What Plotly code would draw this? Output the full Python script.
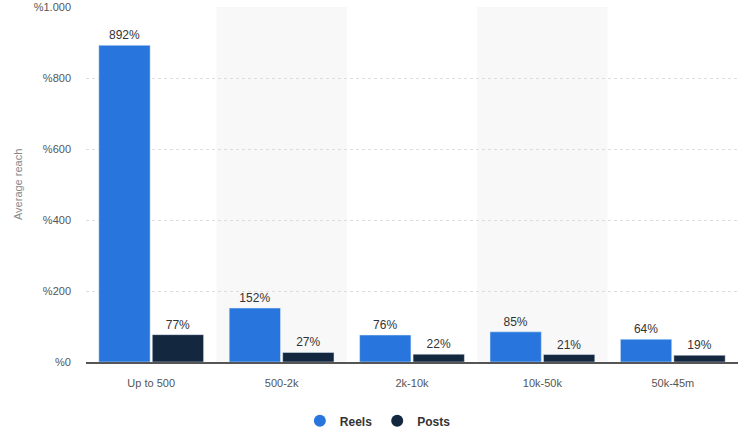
import plotly.graph_objects as go

categories = ["Up to 500", "500-2k", "2k-10k", "10k-50k", "50k-45m"]
reels = [892, 152, 76, 85, 64]
posts = [77, 27, 22, 21, 19]
tick_vals = [0, 200, 400, 600, 800, 1000]
tick_text = ["%0", "%200", "%400", "%600", "%800", "%1.000"]
reels_color = "#2876dd"
posts_color = "#13273f"

label_font = dict(color="#333333", size=12, family="Liberation Sans")

fig = go.Figure()
fig.add_trace(go.Bar(
    name="Reels", x=categories, y=reels, marker_color=reels_color,
    text=[f"{v}%" for v in reels], textposition="outside", textfont=label_font,
    cliponaxis=False, showlegend=False,
))
fig.add_trace(go.Bar(
    name="Posts", x=categories, y=posts, marker_color=posts_color,
    text=[f"{v}%" for v in posts], textposition="outside", textfont=label_font,
    cliponaxis=False, showlegend=False,
))
# legend entries with circular markers
for nm, col in (("Reels", reels_color), ("Posts", posts_color)):
    fig.add_trace(go.Scatter(x=[categories[0]], y=[None], mode="markers", name=nm,
                             marker=dict(color=col, size=13, symbol="circle"),
                             hoverinfo="skip"))

for i in (1, 3):
    fig.add_shape(type="rect", xref="x", yref="paper", x0=i - 0.5, x1=i + 0.5,
                  y0=0, y1=1, fillcolor="#f8f8f8", line_width=0, layer="below")

fig.update_layout(
    width=738, height=437,
    margin=dict(l=86, r=0, t=7, b=75, autoexpand=False),
    plot_bgcolor="white", paper_bgcolor="white",
    barmode="group", bargap=0.18, bargroupgap=0.04,
    font=dict(family="Liberation Sans", color="#666666", size=11),
    showlegend=True,
    legend=dict(orientation="h", xref="container", x=0.512, xanchor="center", yref="container",
                y=0.037, yanchor="middle", itemwidth=30,
                font=dict(size=12, color="#333333", weight="bold"), itemsizing="constant"),
    xaxis=dict(showgrid=False, showline=True, linecolor="#555555", linewidth=1.5,
               ticks="", ticklabelstandoff=10, tickfont=dict(size=11, color="#555555")),
    yaxis=dict(range=[0, 1000], tickvals=tick_vals, ticktext=tick_text,
               showgrid=True, gridcolor="#dddddd", griddash="dot", zeroline=False,
               ticklabelstandoff=14, tickfont=dict(size=11, color="#555555")),
    annotations=[dict(text="Average reach", textangle=-90, xref="paper", yref="paper",
                      x=-0.105, y=0.5, xanchor="center", yanchor="middle", showarrow=False,
                      font=dict(size=11, color="#888888"))],
)
fig.write_html("out.html")
